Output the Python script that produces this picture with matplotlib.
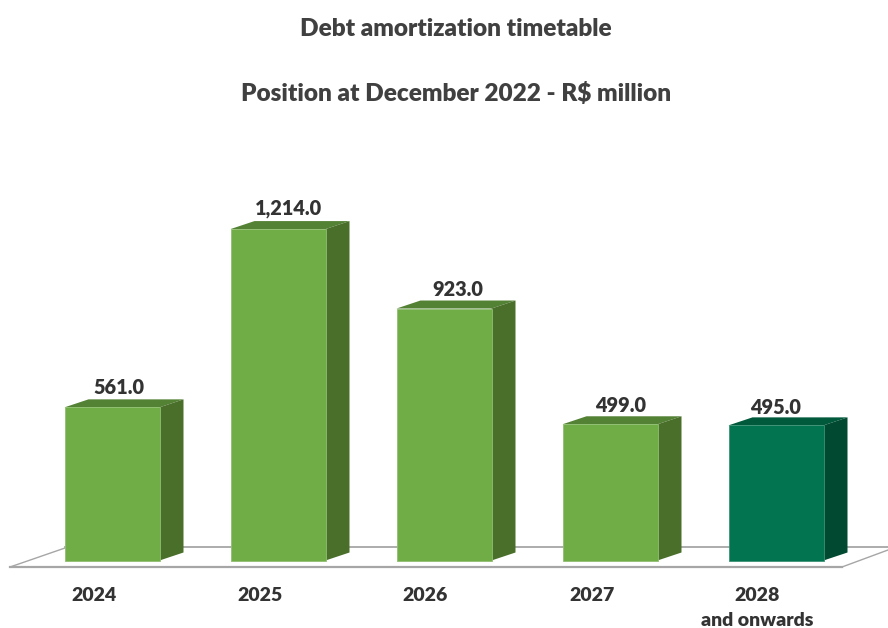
import matplotlib
matplotlib.use('Agg')
import matplotlib.pyplot as plt
from matplotlib.patches import Polygon

years = ['2024', '2025', '2026', '2027', '2028\nand onwards']
amounts = [561.0, 1214.0, 923.0, 499.0, 495.0]
value_labels = ['561.0', '1,214.0', '923.0', '499.0', '495.0']

front_colors = ['#70AD47', '#70AD47', '#70AD47', '#70AD47', '#02744F']
edge_colors = ['#8FBF70', '#8FBF70', '#8FBF70', '#8FBF70', '#3C9274']
top_colors = ['#548235', '#548235', '#548235', '#548235', '#01593C']
side_colors = ['#4A6F2B', '#4A6F2B', '#4A6F2B', '#4A6F2B', '#014A31']

# hand placement of the value labels, in pixels
label_dx = [6.5, 10.5, 14, 10.5, -0.5]
label_dy = [2.5, 3, 1.5, 1, 0.5]

plt.rcParams['font.family'] = ['Lato', 'DejaVu Sans']

W, H = 888, 628
px_x = 166.0    # pixels per category
px_y = 0.273    # pixels per R$ million
x0 = 112.0      # pixel centre of first bar
y0 = 560.5      # pixel row of the zero line


def xp(px):
    return (px - x0) / px_x


def yp(py):
    return (y0 - py) / px_y


fig = plt.figure(figsize=(8.88, 6.28), dpi=100)
ax = fig.add_axes([0, 0, 1, 1])
ax.set_xlim(xp(0), xp(W))
ax.set_ylim(yp(H), yp(0))
ax.axis('off')

# floor of the 3d box
floor_c = '#A6A6A6'
ax.plot([xp(65), xp(888)], [yp(546.5), yp(546.5)], color=floor_c, lw=1.3, zorder=1)
ax.plot([xp(10), xp(842)], [yp(567), yp(567)], color=floor_c, lw=1.6, zorder=1)
ax.plot([xp(10), xp(65)], [yp(567), yp(548)], color=floor_c, lw=1.0, zorder=1)
ax.plot([xp(842), xp(888)], [yp(567), yp(550)], color=floor_c, lw=1.0, zorder=1)

bar_w = 95.0 / px_x
dx = 24.0 / px_x
dy = 8.0 / px_y

xs = list(range(len(amounts)))
ax.bar(xs, amounts, width=bar_w, color=front_colors, edgecolor=edge_colors, lw=0.6, zorder=3)

for i, v in enumerate(amounts):
    l = i - bar_w / 2
    r = i + bar_w / 2
    ax.add_patch(Polygon([(l, v), (l + dx, v + dy), (r + dx, v + dy), (r, v)],
                         closed=True, fc=top_colors[i], ec='none', zorder=2))
    ax.add_patch(Polygon([(r, 0), (r + dx, dy), (r + dx, v + dy), (r, v)],
                         closed=True, fc=side_colors[i], ec='none', zorder=2))
    ax.text(i + label_dx[i] / px_x, v + dy + label_dy[i] / px_y, value_labels[i],
            ha='center', va='bottom', fontsize=14.3, fontweight='heavy', color='#333333', zorder=4)
    # category labels sit below the floor
    ax.text(i - 18.5 / px_x, yp(587), years[i], ha='center', va='top', fontsize=14,
            fontweight='heavy', color='#333333', linespacing=1.6, zorder=4)

ax.text(xp(456), yp(29), 'Debt amortization timetable', ha='center', va='center',
        fontsize=17.6, fontweight='heavy', color='#404040')
ax.text(xp(456), yp(93.5), 'Position at December 2022 - R$ million', ha='center', va='center',
        fontsize=17.6, fontweight='heavy', color='#404040')

fig.savefig('out.png', dpi=100)
